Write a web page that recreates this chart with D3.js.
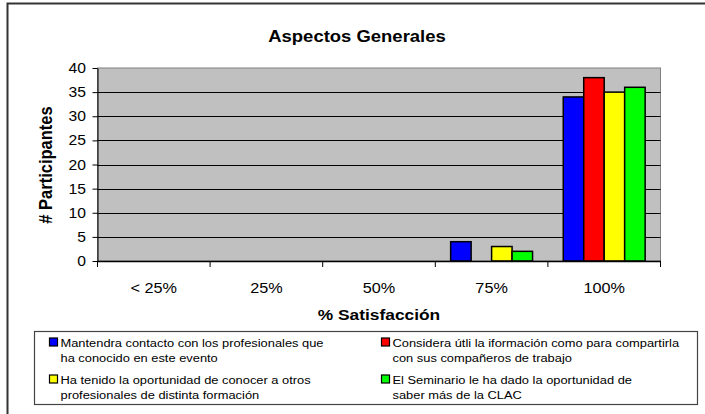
<!DOCTYPE html>
<html><head><meta charset="utf-8">
<script src="https://cdn.jsdelivr.net/npm/d3@7"></script>
<style>
html,body{margin:0;padding:0;background:#fff;}
svg text{font-family:Arial,"Liberation Sans",sans-serif;fill:#000;}
</style></head>
<body>
<svg id="chart" width="705" height="414"></svg>
<script>
const categories = ["< 25%", "25%", "50%", "75%", "100%"];
const seriesNames = [
  ["Mantendra contacto con los profesionales que", "ha conocido en este evento"],
  ["Considera útli la iformación como para compartirla", "con sus compañeros de trabajo"],
  ["Ha tenido la oportunidad de conocer a otros", "profesionales de distinta formación"],
  ["El Seminario le ha dado la oportunidad de", "saber más de la CLAC"]
];
const seriesColors = ["#0000FF", "#FF0000", "#FFFF00", "#00FF00"];
const mantendra = [0, 0, 0, 4, 34];
const considera = [0, 0, 0, 0, 38];
const haTenido  = [0, 0, 0, 3, 35];
const seminario = [0, 0, 0, 2, 36];
const seriesValues = [mantendra, considera, haTenido, seminario];
const yTicks = [0, 5, 10, 15, 20, 25, 30, 35, 40];
const titleText = "Aspectos Generales";
const xTitle = "% Satisfacción";
const yTitle = "# Participantes";

const SX = 1.12;
const svg = d3.select("#chart");

// outer frame
svg.append("path").attr("d", "M7.5,414 V3.5 H705").attr("fill", "none")
  .attr("stroke", "#333").attr("stroke-width", 2);

const plot = {left: 97.5, right: 660.5, top: 68, bottom: 261};
const x0 = d3.scaleBand().domain(categories).range([plot.left, plot.right]).padding(0);
const x1 = d3.scaleBand().domain(d3.range(4)).range([0, x0.bandwidth()]).paddingInner(0).paddingOuter(0.75);
const y = d3.scaleLinear().domain([0, 40]).range([plot.bottom, plot.top]);

function stretchedText(g, xx, yy, txt, size, anchor, weight) {
  return g.append("text")
    .attr("transform", `translate(${xx},${yy}) scale(${SX},1)`)
    .attr("text-anchor", anchor).attr("font-size", size)
    .attr("font-weight", weight || "normal").text(txt);
}

// plot background
svg.append("rect").attr("x", plot.left).attr("y", plot.top)
  .attr("width", plot.right - plot.left).attr("height", plot.bottom - plot.top)
  .attr("fill", "#C0C0C0").attr("stroke", "#808080").attr("stroke-width", 1);

// gridlines
svg.append("g").selectAll("line").data(yTicks.filter(d => d > 0 && d < 40)).join("line")
  .attr("x1", plot.left).attr("x2", plot.right)
  .attr("y1", d => Math.round(y(d)) + 0.5).attr("y2", d => Math.round(y(d)) + 0.5)
  .attr("stroke", "#000").attr("stroke-width", 1);

// bars
const bars = svg.append("g");
seriesValues.forEach((vals, si) => {
  bars.selectAll(null).data(categories.map((c, i) => ({c, v: vals[i]})).filter(d => d.v > 0))
    .join("rect")
    .attr("x", d => x0(d.c) + x1(si))
    .attr("y", d => y(d.v))
    .attr("width", x1.bandwidth())
    .attr("height", d => y(0) - y(d.v))
    .attr("fill", seriesColors[si]).attr("stroke", "#000").attr("stroke-width", 1.5);
});

// y axis
const yAxis = d3.axisLeft(y).tickValues(yTicks).tickSize(5).tickSizeOuter(0).tickFormat(d3.format("d"));
const yg = svg.append("g").attr("transform", `translate(${plot.left},0)`).call(yAxis);
yg.select(".domain").attr("stroke", "#000");
yg.selectAll(".tick line").attr("stroke", "#000");
yg.selectAll(".tick text").remove();
yTicks.forEach(t => stretchedText(svg, 86, y(t) + 5, String(t), 14, "end"));

// x axis
const xAxis = d3.axisBottom(x0).tickSize(0).tickFormat("");
const xg = svg.append("g").attr("transform", `translate(0,${plot.bottom})`).call(xAxis);
xg.select(".domain").attr("stroke", "#000").attr("stroke-width", 1.5);
const bounds = categories.map(c => x0(c)).concat([plot.right]);
xg.selectAll("line.bnd").data(bounds).join("line").attr("class", "bnd")
  .attr("x1", d => d).attr("x2", d => d).attr("y1", 0).attr("y2", 6)
  .attr("stroke", "#000").attr("stroke-width", 1);
categories.forEach(c => stretchedText(svg, x0(c) + x0.bandwidth() / 2, 293, c, 14.5, "middle"));

// titles
stretchedText(svg, 357, 41.5, titleText, 16.5, "middle", "bold");
stretchedText(svg, 379, 320, xTitle, 15.5, "middle", "bold");
svg.append("text")
  .attr("transform", `translate(52,165) scale(${SX},1) rotate(-90)`)
  .attr("text-anchor", "middle").attr("font-size", 16.5).attr("font-weight", "bold").text(yTitle);

// legend
svg.append("rect").attr("x", 34.5).attr("y", 331.5).attr("width", 663).attr("height", 73)
  .attr("fill", "#fff").attr("stroke", "#444").attr("stroke-width", 1.2);
const legPos = [[49.5, 338], [381.5, 338], [49.5, 375], [381.5, 375]];
seriesNames.forEach((lines, i) => {
  const [lx, ly] = legPos[i];
  svg.append("rect").attr("x", lx).attr("y", ly).attr("width", 8).attr("height", 8)
    .attr("fill", seriesColors[i]).attr("stroke", "#000").attr("stroke-width", 1.2);
  lines.forEach((ln, j) => stretchedText(svg, lx + 11, ly + 8.5 + j * 15.5, ln, 11.5, "start"));
});
</script>
</body></html>
